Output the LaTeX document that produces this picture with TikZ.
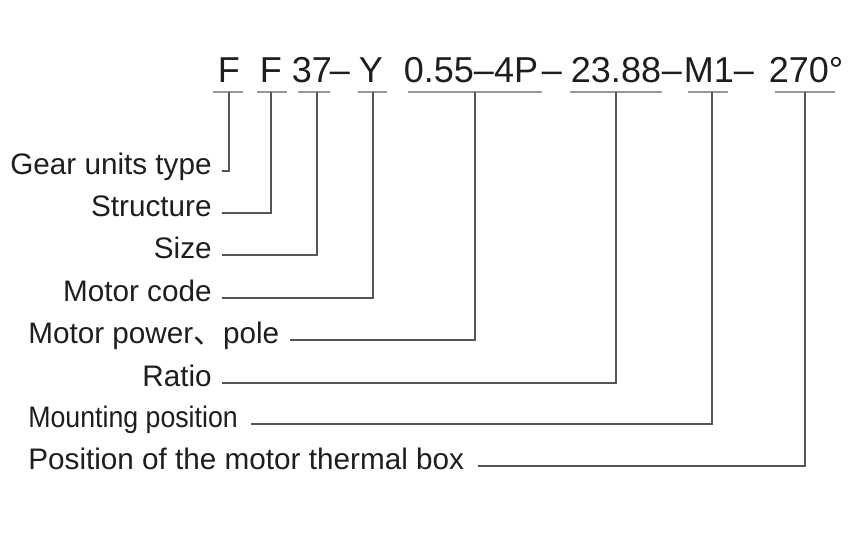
\documentclass[tikz,border=0pt]{standalone}
\usepackage{fontspec}
\setmainfont{Liberation Sans}
\newfontfamily\cjkfont{Noto Sans CJK SC}
\usetikzlibrary{calc}
\definecolor{clrText}{RGB}{30,30,30}
\definecolor{clrLines}{RGB}{85,85,85}
\tikzstyle{code}=[inner sep=0pt, anchor=base, text=clrText, font=\fontsize{20.5}{24}\selectfont]
\tikzstyle{legend}=[inner sep=0pt, text=clrText, font=\fontsize{16.9}{20}\selectfont]
\tikzstyle{legend_r}=[legend, anchor=base east]
\tikzstyle{legend_l}=[legend, anchor=base west]
\tikzstyle{line}=[draw=clrLines, line width=0.8pt]
\tikzstyle{underline}=[draw=clrLines!60, line width=0.6pt]

\begin{document}
\begin{tikzpicture}[x=0.02cm, y=-0.02cm]
		\useasboundingbox (0,0) rectangle (850,550);

		% code of the gear unit
		\node[code] (A) at (229,83) {F} ;
		\node[code] (B) at (271,83) {F} ;
		\node[code] (C) at (312,83) {37} ;
		\node[code] (C2) at (340,83) {--} ;
		\node[code] (D) at (371,83) {Y} ;
		\node[code] (E) at (471,83) {0.55--4P} ;
		\node[code] (E2) at (552,83) {--} ;
		\node[code] (F) at (616,83) {23.88} ;
		\node[code] (F2) at (672,83) {--} ;
		\node[code] (G) at (709,83) {M1} ;
		\node[code] (G2) at (744,83) {--} ;
		\node[code] (H) at (806,83) {270°} ;

		% underlines, with the point where each leader meets them
		\foreach \l/\m/\r/\n in {213/229/243/a, 257/271/287/b, 298/317/330/c, 358/373/387/d,
				408/475/542/e, 570/616/662/f, 688/712/728/g, 775/805/835/h}{
			\draw[underline] (\l,92) -- (\r,92) ;
			\coordinate (\n) at (\m,92) ;
		}

		% legends
		\node[legend_r] (gear) at (212,175) {Gear units type} ;
		\node[legend_r] (struct) at (212,217) {Structure} ;
		\node[legend_r] (size) at (212,259) {Size} ;
		\node[legend_r] (mcode) at (212,302) {Motor code} ;
		\node[legend_l] (mpower) at (28,344) {Motor power{\cjkfont 、}pole} ;
		\node[legend_r] (ratio) at (212,387) {Ratio} ;
		\node[legend_l] (mount) at (28,428) {\scalebox{0.9}[1]{Mounting position}} ;
		\node[legend_l] (thermal) at (28,470) {Position of the motor thermal box} ;

		\draw[line] ([shift={(10,-4)}]gear.base east) -| (a) ;
		\draw[line] ([shift={(10,-4)}]struct.base east) -| (b) ;
		\draw[line] ([shift={(10,-4)}]size.base east) -| (c) ;
		\draw[line] ([shift={(10,-4)}]mcode.base east) -| (d) ;
		\draw[line] ([shift={(10,-4)}]mpower.base east) -| (e) ;
		\draw[line] ([shift={(10,-4)}]ratio.base east) -| (f) ;
		\draw[line] ([shift={(13,-4)}]mount.base east) -| (g) ;
		\draw[line] ([shift={(14,-4)}]thermal.base east) -| (h) ;

	\end{tikzpicture}
\end{document}
